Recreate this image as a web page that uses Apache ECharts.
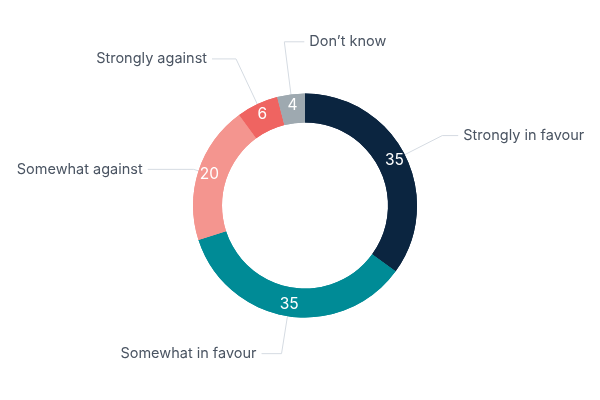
<!DOCTYPE html>
<html><head><meta charset="utf-8">
<script src="https://cdn.jsdelivr.net/npm/echarts@6/dist/echarts.min.js"></script>
<style>html,body{margin:0;padding:0;background:#fff}#c{width:600px;height:400px}</style>
</head><body><div id="c"></div>
<script>
const categories = ['Strongly in favour','Somewhat in favour','Somewhat against','Strongly against','Don\u2019t know'];
const values = [35, 35, 20, 6, 4];
const colors = ['#0b2540','#008b96','#f4958f','#ef6461','#9ea9b0'];
const lineLen = [42, 38, 5, 50, 53];
const lineLen2 = [16, 20, 46, 24, 20];
const flipRight = [false, false, false, false, true];

const outerData = categories.map((n,i)=>({name:n,value:values[i],itemStyle:{color:colors[i]},
  labelLine:{length:lineLen[i],length2:lineLen2[i]}}));
const innerData = categories.map((n,i)=>({name:n,value:values[i],itemStyle:{color:colors[i]}}));
const chart = echarts.init(document.getElementById('c'));
const font = 'Inter, "Noto Sans", sans-serif';
chart.setOption({
  animation:false,
  series:[
    {type:'pie',center:[305,205.5],radius:[83,112],startAngle:90,clockwise:true,data:outerData,
     label:{show:true,position:'outside',formatter:'{b}',color:'#4a5462',fontSize:14.5,fontFamily:font,distanceToLabelLine:5},
     labelLine:{show:true,lineStyle:{color:'#d5dbe2',width:1}},
     labelLayout:function(p){
       if(!flipRight[p.dataIndex] || !p.labelLinePoints) return {};
       const pts = p.labelLinePoints;
       const p0 = pts[0], p1 = pts[1], p2 = pts[2];
       const l2 = Math.abs(p1[0]-p2[0]);
       const np2 = [p1[0]+l2, p1[1]];
       return {labelLinePoints:[p0,p1,np2], x: np2[0]+5, y: p1[1], align:'left', verticalAlign:'middle'};
     },
     itemStyle:{borderWidth:0}},
    {type:'pie',center:[305,205.5],radius:[83,112],startAngle:90,clockwise:true,data:innerData,silent:true,
     label:{show:true,position:'inside',formatter:'{c}',color:'#ffffff',fontSize:15.5,fontFamily:font},
     labelLine:{show:false},itemStyle:{borderWidth:0}}
  ]
});
</script></body></html>
